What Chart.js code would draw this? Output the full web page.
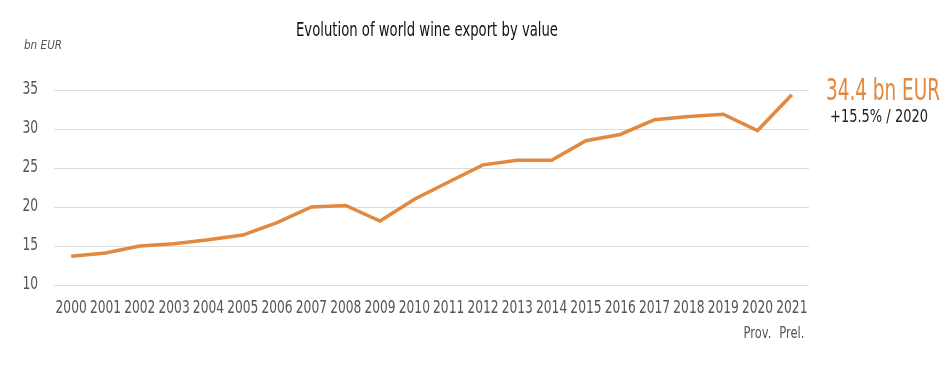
<!DOCTYPE html>
<html>
<head>
<meta charset="utf-8">
<script src="https://cdn.jsdelivr.net/npm/chart.js@4.4.0/dist/chart.umd.min.js"></script>
<style>
  html, body { margin: 0; padding: 0; background: #fff; }
  #wrap { width: 949px; height: 383px; position: relative; }
</style>
</head>
<body>
<div id="wrap"><canvas id="c"></canvas></div>
<script>
// data
const years = ['2000','2001','2002','2003','2004','2005','2006','2007','2008','2009','2010',
               '2011','2012','2013','2014','2015','2016','2017','2018','2019','2020','2021'];
const subLabels = { '2020': 'Prov.', '2021': 'Prel.' };
const exportValue = [13.7, 14.1, 15.0, 15.3, 15.8, 16.4, 18.0, 20.0, 20.2, 18.2, 21.0,
                     23.2, 25.4, 26.0, 26.0, 28.5, 29.3, 31.2, 31.6, 31.9, 29.8, 34.4];
const yTicks = [10, 15, 20, 25, 30, 35];

const FONT = '"DejaVu Sans", sans-serif';
const ORANGE = '#E2883F';

// texte "condensé" : on écrase horizontalement
function squeezeText(ctx, text, x, y, font, color, align, sx) {
    ctx.save();
    ctx.font = font;
    ctx.fillStyle = color;
    ctx.textAlign = align;
    ctx.textBaseline = 'middle';
    ctx.translate(x, y);
    ctx.scale(sx, 1);
    ctx.fillText(text, 0, 0);
    ctx.restore();
}

function fitText(ctx, text, x, y, font, color, align, width) {
    ctx.save();
    ctx.font = font;
    const sx = width / ctx.measureText(text).width;
    ctx.restore();
    squeezeText(ctx, text, x, y, font, color, align, sx);
}

const textPlugin = {
    id: 'texts',
    afterDraw(chart) {
        const ctx = chart.ctx;
        const xs = chart.scales.x;
        const ys = chart.scales.y;

        // titre + unité
        fitText(ctx, 'Evolution of world wine export by value', 296, 31, '20px ' + FONT, '#111', 'left', 262);
        fitText(ctx, 'bn EUR', 24, 46, 'italic 13px ' + FONT, '#555', 'left', 38);

        // graduations Y
        yTicks.forEach(v => {
            squeezeText(ctx, String(v), 38, ys.getPixelForValue(v), '17px ' + FONT, '#555', 'right', 0.72);
        });

        // graduations X
        years.forEach((y, i) => {
            const px = xs.getPixelForValue(i);
            squeezeText(ctx, y, px, 309, '17px ' + FONT, '#555', 'center', 0.72);
            if (subLabels[y]) {
                squeezeText(ctx, subLabels[y], px, 334, '16px ' + FONT, '#555', 'center', 0.72);
            }
        });

        // annotation finale
        const last = exportValue[exportValue.length - 1];
        fitText(ctx, last + ' bn EUR', 826, 92, '30px ' + FONT, ORANGE, 'left', 114);
        fitText(ctx, '+15.5% / 2020', 830, 118, '17px ' + FONT, '#222', 'left', 98);
    }
};

new Chart(document.getElementById('c'), {
    type: 'line',
    data: {
        labels: years,
        datasets: [{
            data: exportValue,
            borderColor: ORANGE,
            borderWidth: 3.5,
            pointRadius: 0,
            tension: 0,
            fill: false
        }]
    },
    options: {
        responsive: true,
        maintainAspectRatio: false,
        animation: false,
        layout: { padding: { left: 54, right: 140, top: 90, bottom: 90 } },
        plugins: {
            legend: { display: false },
            tooltip: { enabled: false }
        },
        scales: {
            x: {
                offset: true,
                grid: { display: false },
                border: { display: false },
                ticks: { display: false }
            },
            y: {
                min: 10,
                max: 35,
                afterBuildTicks: (axis) => { axis.ticks = yTicks.map(v => ({ value: v })); },
                grid: { color: '#dcdcdc', lineWidth: 1, drawTicks: false },
                border: { display: false },
                ticks: { display: false }
            }
        }
    },
    plugins: [textPlugin]
});
</script>
</body>
</html>
